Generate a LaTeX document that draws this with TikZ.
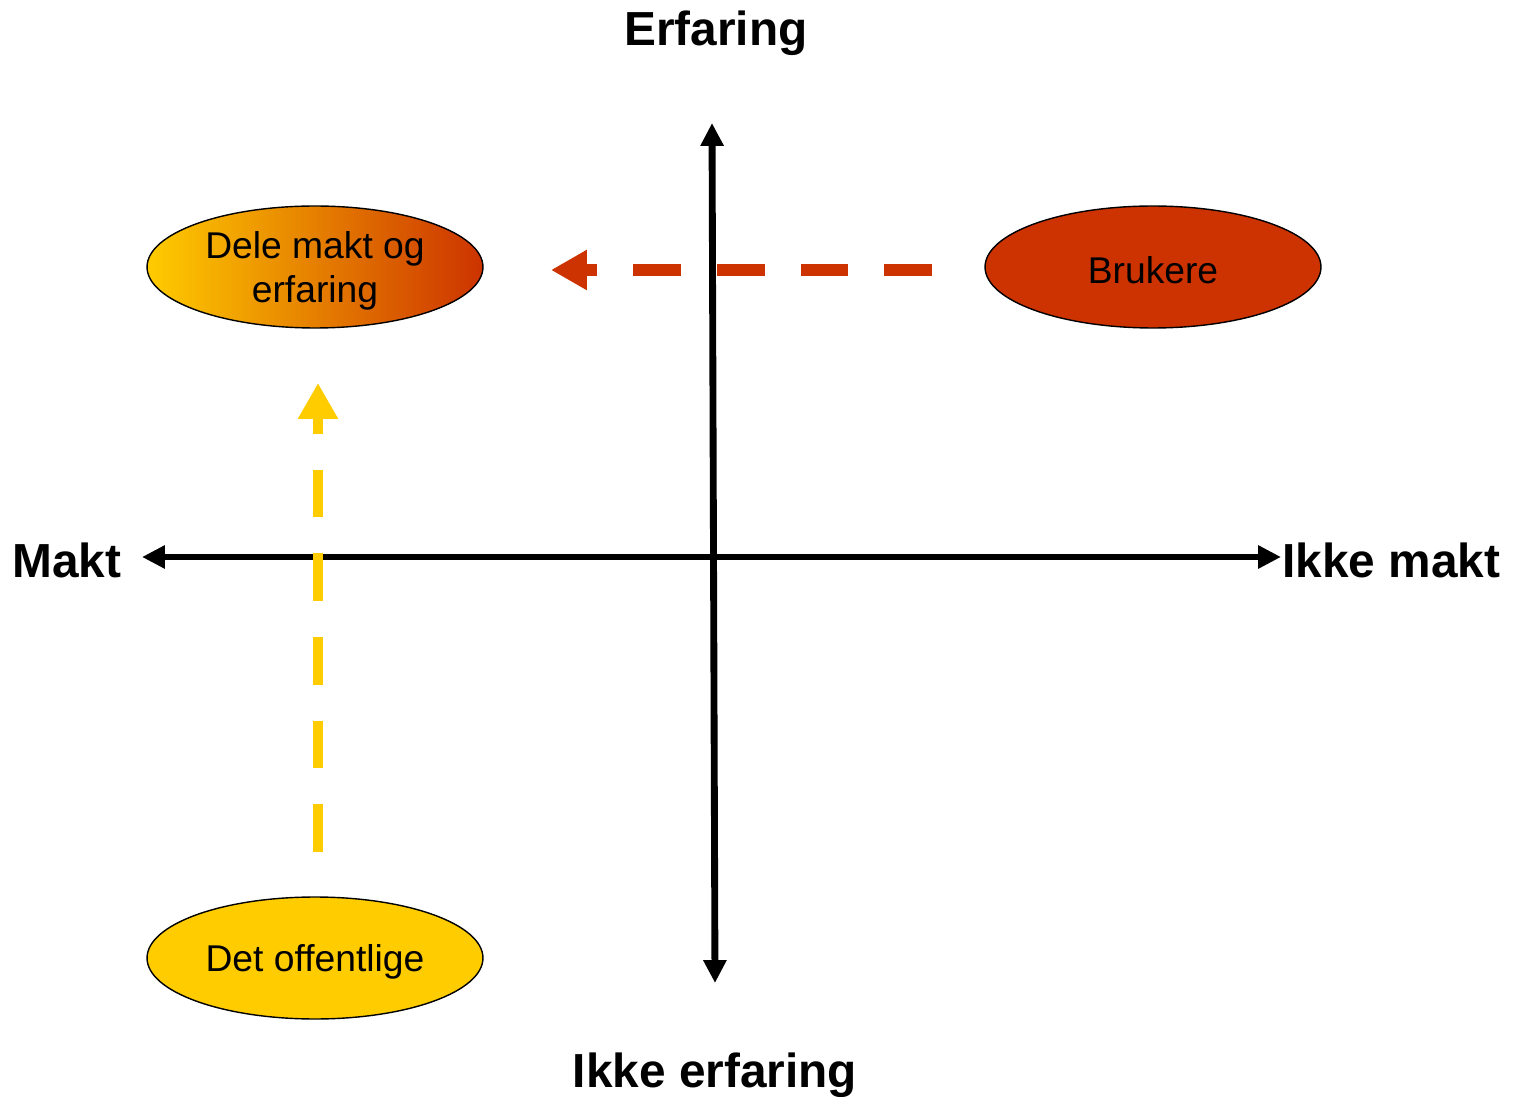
\documentclass[tikz,border=0pt]{standalone}
\usepackage{fontspec}
\setmainfont{Liberation Sans}
\usetikzlibrary{arrows.meta,shapes.geometric}
\definecolor{brred}{HTML}{CC3300}
\definecolor{ofyel}{HTML}{FFCC00}
\tikzset{
  axlabel/.style={font=\fontsize{27.2}{31}\selectfont\bfseries, inner sep=0pt},
  oval/.style={ellipse, draw=black, line width=0.8pt, minimum width=6.72cm, minimum height=2.44cm, inner sep=0pt},
  ovaltext/.style={inner sep=0pt, align=center, font=\fontsize{21.2}{25}\selectfont},
  axis/.style={line width=3.9pt, {Triangle[length=13pt,width=12.5pt]}-{Triangle[length=13pt,width=12.5pt]}},
  flow/.style={dash pattern=on 27.2pt off 20.4pt, -{Triangle[length=20.4pt,width=21.5pt]}},
}
\begin{document}
\begin{tikzpicture}[x=0.02cm,y=-0.02cm]
\useasboundingbox (0,0) rectangle (1514,1097);
% labels
\node[axlabel, anchor=base] (erf) at (716,46) {Erfaring};
\node[axlabel, anchor=base] (ikkeerf) at (715,1087) {Ikke erfaring};
\node[axlabel, anchor=base west] (makt) at (12,578) {Makt};
\node[axlabel, anchor=base west] (ikkemakt) at (1282,578) {Ikke makt};
% axes
\coordinate (vt) at (712,123);
\coordinate (vb) at (715,983);
\coordinate (hl) at (142,557);
\coordinate (hr) at (1281,557);
\draw[axis] (hl) -- (hr);
\draw[axis] (vt) -- (vb);
% ovals
\node[oval, left color=ofyel, right color=brred] (dele) at (315,267) {};
\node[oval, fill=brred] (bru) at (1153,267) {};
\node[oval, fill=ofyel] (off) at (315,958) {};
\node[ovaltext] (deletxt) at ([yshift=-4*0.02cm]dele.center) {Dele makt og\\erfaring};
\node[ovaltext] (brutxt) at ([yshift=-3*0.02cm]bru.center) {Brukere};
\node[ovaltext] (offtxt) at ([yshift=-4*0.02cm]off.center) {Det offentlige};
% flows
\coordinate (rs) at (932,270);
\coordinate (re) at (551,270);
\coordinate (ys) at (318,852);
\coordinate (ye) at (318,383);
\draw[flow, brred, line width=6.8pt] (rs) -- (re);
\draw[flow, ofyel, line width=6.2pt] (ys) -- (ye);
\end{tikzpicture}
\end{document}
